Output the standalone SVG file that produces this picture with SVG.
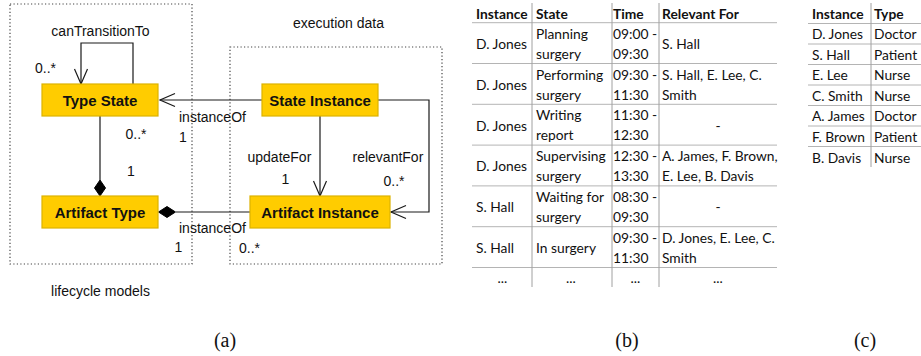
<svg xmlns="http://www.w3.org/2000/svg" width="921" height="356" viewBox="0 0 921 356">
<style>
.lbl{font-family:"Liberation Sans",Arial,sans-serif;font-size:14px;fill:#111}
.nodeT{font-family:"Liberation Sans",Arial,sans-serif;font-size:15px;font-weight:bold;fill:#111;text-anchor:middle}
.node{fill:#ffcc00;stroke:#dcb200;stroke-width:1.2}
.frame{fill:none;stroke:#444;stroke-width:1.2;stroke-dasharray:1.2 2.3}
.edge{fill:none;stroke:#1a1a1a;stroke-width:1.2}
.dia{fill:#000;stroke:#000;stroke-width:1}
.tb{font-family:Lato,"Liberation Sans",sans-serif;font-size:13.8px;fill:#111}
.tbh{font-family:Lato,"Liberation Sans",sans-serif;font-size:13.8px;font-weight:bold;fill:#111}
.mid{text-anchor:middle}
.hl{stroke:#b4b4b4;stroke-width:1}
.vl{stroke:#a0a0a0;stroke-width:1}
.cap{font-family:"Liberation Serif","Times New Roman",serif;font-size:20px;fill:#111;text-anchor:middle}
</style>

<!-- (a) UML diagram -->
<g id="frames">
  <rect class="frame" x="10" y="4" width="182" height="260"/>
  <rect class="frame" x="230" y="47" width="212" height="217"/>
  <text class="lbl" x="338.5" y="27.5" text-anchor="middle">execution data</text>
  <text class="lbl" x="100.5" y="295.5" text-anchor="middle">lifecycle models</text>
</g>

<g id="connectors">
  <!-- self loop canTransitionTo -->
  <path class="edge" d="M133,84 V43 H81 V84"/>
  <path class="edge" d="M74.5,69 L81,84 L87.5,69"/>
  <text class="lbl" x="100.5" y="36" text-anchor="middle">canTransitionTo</text>
  <text class="lbl" x="35" y="72.5">0..*</text>
  <!-- Type State composed in Artifact Type -->
  <path class="edge" d="M100,116 V180"/>
  <path class="dia" d="M100,180 L94.5,188 L100,196 L105.5,188 Z"/>
  <text class="lbl" x="125.5" y="139">0..*</text>
  <text class="lbl" x="127" y="175.5">1</text>
  <!-- State Instance instanceOf Type State -->
  <path class="edge" d="M262,100 H160"/>
  <path class="edge" d="M175,93.5 L160,100 L175,106.5"/>
  <text class="lbl" x="179" y="121.5">instanceOf</text>
  <text class="lbl" x="179" y="141.5">1</text>
  <!-- Artifact Instance instanceOf Artifact Type -->
  <path class="edge" d="M250,212 H176"/>
  <path class="dia" d="M158.5,212 L167,206.5 L175.5,212 L167,217.5 Z"/>
  <text class="lbl" x="179" y="233">instanceOf</text>
  <text class="lbl" x="174.5" y="252">1</text>
  <text class="lbl" x="239" y="253">0..*</text>
  <!-- updateFor -->
  <path class="edge" d="M320,116 V196"/>
  <path class="edge" d="M313.5,181 L320,196 L326.5,181"/>
  <text class="lbl" x="247.5" y="161.7">updateFor</text>
  <text class="lbl" x="281.5" y="184">1</text>
  <!-- relevantFor -->
  <path class="edge" d="M378,100 H429 V212 H391"/>
  <path class="edge" d="M406,205.5 L391,212 L406,218.5"/>
  <text class="lbl" x="352.5" y="161.7">relevantFor</text>
  <text class="lbl" x="383.5" y="186">0..*</text>
</g>

<g id="type-state">
  <rect class="node" x="42" y="84" width="116" height="32"/>
  <text class="nodeT" x="100" y="105.5">Type State</text>
</g>
<g id="artifact-type">
  <rect class="node" x="42" y="196" width="116" height="32"/>
  <text class="nodeT" x="100" y="217.5">Artifact Type</text>
</g>
<g id="state-instance">
  <rect class="node" x="262" y="84" width="116" height="32"/>
  <text class="nodeT" x="320" y="105.5">State Instance</text>
</g>
<g id="artifact-instance">
  <rect class="node" x="250" y="196" width="140" height="32"/>
  <text class="nodeT" x="320" y="217.5">Artifact Instance</text>
</g>

<!-- (b) table -->
<g id="table-b">
  <line class="hl" x1="472" y1="22.7" x2="777" y2="22.7"/>
  <line class="hl" x1="472" y1="63.5" x2="777" y2="63.5"/>
  <line class="hl" x1="472" y1="104.3" x2="777" y2="104.3"/>
  <line class="hl" x1="472" y1="145.1" x2="777" y2="145.1"/>
  <line class="hl" x1="472" y1="185.9" x2="777" y2="185.9"/>
  <line class="hl" x1="472" y1="226.7" x2="777" y2="226.7"/>
  <line class="hl" x1="472" y1="267.5" x2="777" y2="267.5"/>
  <line class="vl" x1="532" y1="3" x2="532" y2="287"/>
  <line class="vl" x1="612" y1="3" x2="612" y2="287"/>
  <line class="vl" x1="659" y1="3" x2="659" y2="287"/>

  <text class="tbh" x="476" y="19">Instance</text>
  <text class="tbh" x="536" y="19">State</text>
  <text class="tbh" x="613" y="19">Time</text>
  <text class="tbh" x="662" y="19">Relevant For</text>

  <text class="tb" x="476" y="49">D. Jones</text>
  <text class="tb" x="536" y="38.7">Planning</text>
  <text class="tb" x="536" y="58.7">surgery</text>
  <text class="tb" x="613" y="38.7">09:00 -</text>
  <text class="tb" x="613" y="58.7">09:30</text>
  <text class="tb" x="662" y="49">S. Hall</text>

  <text class="tb" x="476" y="89.8">D. Jones</text>
  <text class="tb" x="536" y="79.5">Performing</text>
  <text class="tb" x="536" y="99.5">surgery</text>
  <text class="tb" x="613" y="79.5">09:30 -</text>
  <text class="tb" x="613" y="99.5">11:30</text>
  <text class="tb" x="662" y="79.5">S. Hall, E. Lee, C.</text>
  <text class="tb" x="662" y="99.5">Smith</text>

  <text class="tb" x="476" y="130.6">D. Jones</text>
  <text class="tb" x="536" y="120.3">Writing</text>
  <text class="tb" x="536" y="140.3">report</text>
  <text class="tb" x="613" y="120.3">11:30 -</text>
  <text class="tb" x="613" y="140.3">12:30</text>
  <text class="tb mid" x="718" y="130.6">-</text>

  <text class="tb" x="476" y="171.4">D. Jones</text>
  <text class="tb" x="536" y="161.1">Supervising</text>
  <text class="tb" x="536" y="181.1">surgery</text>
  <text class="tb" x="613" y="161.1">12:30 -</text>
  <text class="tb" x="613" y="181.1">13:30</text>
  <text class="tb" x="662" y="161.1">A. James, F. Brown,</text>
  <text class="tb" x="662" y="181.1">E. Lee, B. Davis</text>

  <text class="tb" x="476" y="212.2">S. Hall</text>
  <text class="tb" x="536" y="201.9">Waiting for</text>
  <text class="tb" x="536" y="221.9">surgery</text>
  <text class="tb" x="613" y="201.9">08:30 -</text>
  <text class="tb" x="613" y="221.9">09:30</text>
  <text class="tb mid" x="718" y="212.2">-</text>

  <text class="tb" x="476" y="253">S. Hall</text>
  <text class="tb" x="536" y="253">In surgery</text>
  <text class="tb" x="613" y="242.7">09:30 -</text>
  <text class="tb" x="613" y="262.7">11:30</text>
  <text class="tb" x="662" y="242.7">D. Jones, E. Lee, C.</text>
  <text class="tb" x="662" y="262.7">Smith</text>

  <text class="tb mid" x="502.5" y="283">...</text>
  <text class="tb mid" x="571" y="283">...</text>
  <text class="tb mid" x="635.5" y="283">...</text>
  <text class="tb mid" x="718" y="283">...</text>
</g>

<!-- (c) table -->
<g id="table-c">
  <line class="hl" x1="808" y1="23.5" x2="921" y2="23.5"/>
  <line class="hl" x1="808" y1="44" x2="921" y2="44"/>
  <line class="hl" x1="808" y1="64.5" x2="921" y2="64.5"/>
  <line class="hl" x1="808" y1="85" x2="921" y2="85"/>
  <line class="hl" x1="808" y1="105.5" x2="921" y2="105.5"/>
  <line class="hl" x1="808" y1="126" x2="921" y2="126"/>
  <line class="hl" x1="808" y1="146.5" x2="921" y2="146.5"/>
  <line class="vl" x1="871" y1="3" x2="871" y2="167"/>

  <text class="tbh" x="812" y="19">Instance</text>
  <text class="tbh" x="874" y="19">Type</text>
  <text class="tb" x="812" y="39">D. Jones</text>
  <text class="tb" x="874" y="39">Doctor</text>
  <text class="tb" x="812" y="59.6">S. Hall</text>
  <text class="tb" x="874" y="59.6">Patient</text>
  <text class="tb" x="812" y="80.2">E. Lee</text>
  <text class="tb" x="874" y="80.2">Nurse</text>
  <text class="tb" x="812" y="100.8">C. Smith</text>
  <text class="tb" x="874" y="100.8">Nurse</text>
  <text class="tb" x="812" y="121.4">A. James</text>
  <text class="tb" x="874" y="121.4">Doctor</text>
  <text class="tb" x="812" y="142">F. Brown</text>
  <text class="tb" x="874" y="142">Patient</text>
  <text class="tb" x="812" y="162.6">B. Davis</text>
  <text class="tb" x="874" y="162.6">Nurse</text>
</g>

<g id="captions">
  <text class="cap" x="225" y="347">(a)</text>
  <text class="cap" x="627" y="347">(b)</text>
  <text class="cap" x="865" y="347">(c)</text>
</g>
</svg>
